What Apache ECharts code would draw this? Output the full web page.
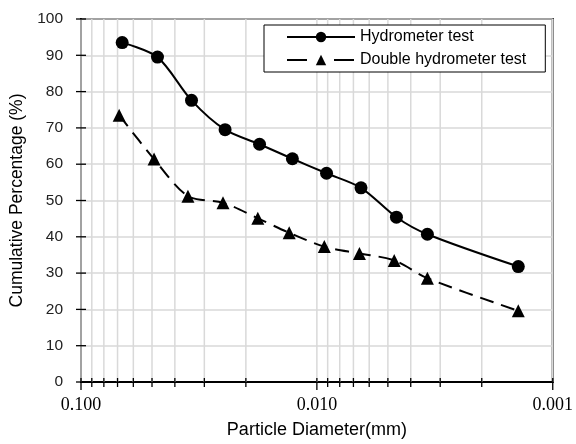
<!DOCTYPE html>
<html><head><meta charset="utf-8">
<script src="https://cdn.jsdelivr.net/npm/echarts@6/dist/echarts.min.js"></script>
<style>html,body{margin:0;padding:0;background:#fff}#c{width:576px;height:444px}</style>
</head><body><div id="c"></div>
<script>
// Data
const hydroDiam  = [0.0669, 0.0474, 0.0340, 0.0245, 0.0175, 0.0127, 0.0091, 0.0065, 0.0046, 0.0034, 0.0014];
const hydroPct   = [93.5, 89.5, 77.6, 69.5, 65.5, 61.5, 57.5, 53.5, 45.4, 40.7, 31.8];
const doubleDiam = [0.0689, 0.0490, 0.0352, 0.0250, 0.0178, 0.0131, 0.0093, 0.0066, 0.0047, 0.0034, 0.0014];
const doublePct  = [73.5, 61.4, 51.2, 49.4, 45.1, 41.1, 37.3, 35.4, 33.5, 28.6, 19.6];
const seriesNames = ['Hydrometer test', 'Double hydrometer test'];
const xTickLabels = ['0.100', '0.010', '0.001'];
const majorX = [0.1, 0.01, 0.001];
const minorX = [0.09, 0.08, 0.07, 0.06, 0.05, 0.04, 0.03, 0.02,
                0.009, 0.008, 0.007, 0.006, 0.005, 0.004, 0.003, 0.002];
const yTicks = [0, 10, 20, 30, 40, 50, 60, 70, 80, 90, 100];

const chart = echarts.init(document.getElementById('c'));
const pair = (xs, ys) => xs.map((x, i) => [x, ys[i]]);

const vLines = majorX.map(v => [v, 0, 1]).concat(minorX.map(v => [v, 0, 0]));
const yTickData = yTicks.map(v => [0.1, v]);

chart.setOption({
  animation: false,
  backgroundColor: '#fff',
  grid: { left: 81, right: 21, top: 19, bottom: 61, show: true, borderColor: '#000', borderWidth: 2, containLabel: false },
  legend: {
    data: [
      { name: seriesNames[0] },
      { name: seriesNames[1], lineStyle: { type: [20, 27] } }
    ],
    orient: 'vertical', left: 264, top: 25,
    padding: [4, 19, 4, 22], itemGap: 7,
    itemWidth: 68, itemHeight: 13,
    borderColor: '#000', borderWidth: 1, backgroundColor: '#fff',
    textStyle: { fontFamily: 'Liberation Sans', fontSize: 16, color: '#000', lineHeight: 16 }
  },
  xAxis: {
    type: 'log', logBase: 10, min: 0.001, max: 0.1, inverse: true,
    name: 'Particle Diameter(mm)', nameLocation: 'middle', nameGap: 39,
    nameTextStyle: { fontFamily: 'Liberation Sans', fontSize: 18, color: '#000' },
    axisLine: { lineStyle: { color: '#000', width: 2 } },
    axisTick: { show: false },
    splitLine: { show: false },
    axisLabel: {
      fontFamily: 'Liberation Serif', fontSize: 18, color: '#000', margin: 14,
      formatter: v => { const i = majorX.findIndex(m => Math.abs(Math.log10(m) - Math.log10(v)) < 1e-6); return i >= 0 ? xTickLabels[i] : ''; }
    }
  },
  yAxis: {
    type: 'value', min: 0, max: 100, interval: 10,
    name: 'Cumulative Percentage (%)', nameLocation: 'middle', nameGap: 52,
    nameTextStyle: { fontFamily: 'Liberation Sans', fontSize: 17.5, color: '#000' },
    axisLine: { show: true, lineStyle: { color: '#000', width: 2 } },
    axisTick: { show: false },
    splitLine: { show: true, lineStyle: { color: '#d9d9d9', width: 1.5 } },
    axisLabel: { fontFamily: 'Liberation Sans', fontSize: 15.5, color: '#222', margin: 18 }
  },
  series: [
    {
      type: 'custom', name: 'vgrid', silent: true, z: 1,
      data: vLines,
      renderItem: (params, api) => {
        const x = api.value(0);
        const major = api.value(2) === 1;
        const b = api.coord([x, 0]);
        const t = api.coord([x, 100]);
        return { type: 'group', children: [
          { type: 'line', shape: { x1: b[0], y1: t[1], x2: b[0], y2: b[1] }, style: { stroke: '#d9d9d9', lineWidth: 1.5 } },
          { type: 'line', z2: 50, shape: { x1: b[0], y1: b[1] - 4, x2: b[0], y2: b[1] + (major ? 8 : 5) }, style: { stroke: '#000', lineWidth: 1.3 } }
        ]};
      }
    },
    {
      type: 'custom', name: 'yticks', silent: true, z: 3,
      data: yTickData,
      renderItem: (params, api) => {
        const p = api.coord([api.value(0), api.value(1)]);
        return { type: 'line', shape: { x1: p[0] - 5, y1: p[1], x2: p[0] + 5, y2: p[1] }, style: { stroke: '#000', lineWidth: 1.3 } };
      }
    },
    {
      type: 'line', name: seriesNames[0], data: pair(hydroDiam, hydroPct), z: 5,
      smooth: 0.3, symbol: 'circle', symbolSize: 13,
      lineStyle: { color: '#000', width: 2 },
      itemStyle: { color: '#000' }
    },
    {
      type: 'line', name: seriesNames[1], data: pair(doubleDiam, doublePct), z: 5,
      smooth: 0.3, symbol: 'triangle', symbolSize: 13,
      lineStyle: { color: '#000', width: 2, type: [14, 8] },
      itemStyle: { color: '#000' }
    }
  ]
});
</script></body></html>
